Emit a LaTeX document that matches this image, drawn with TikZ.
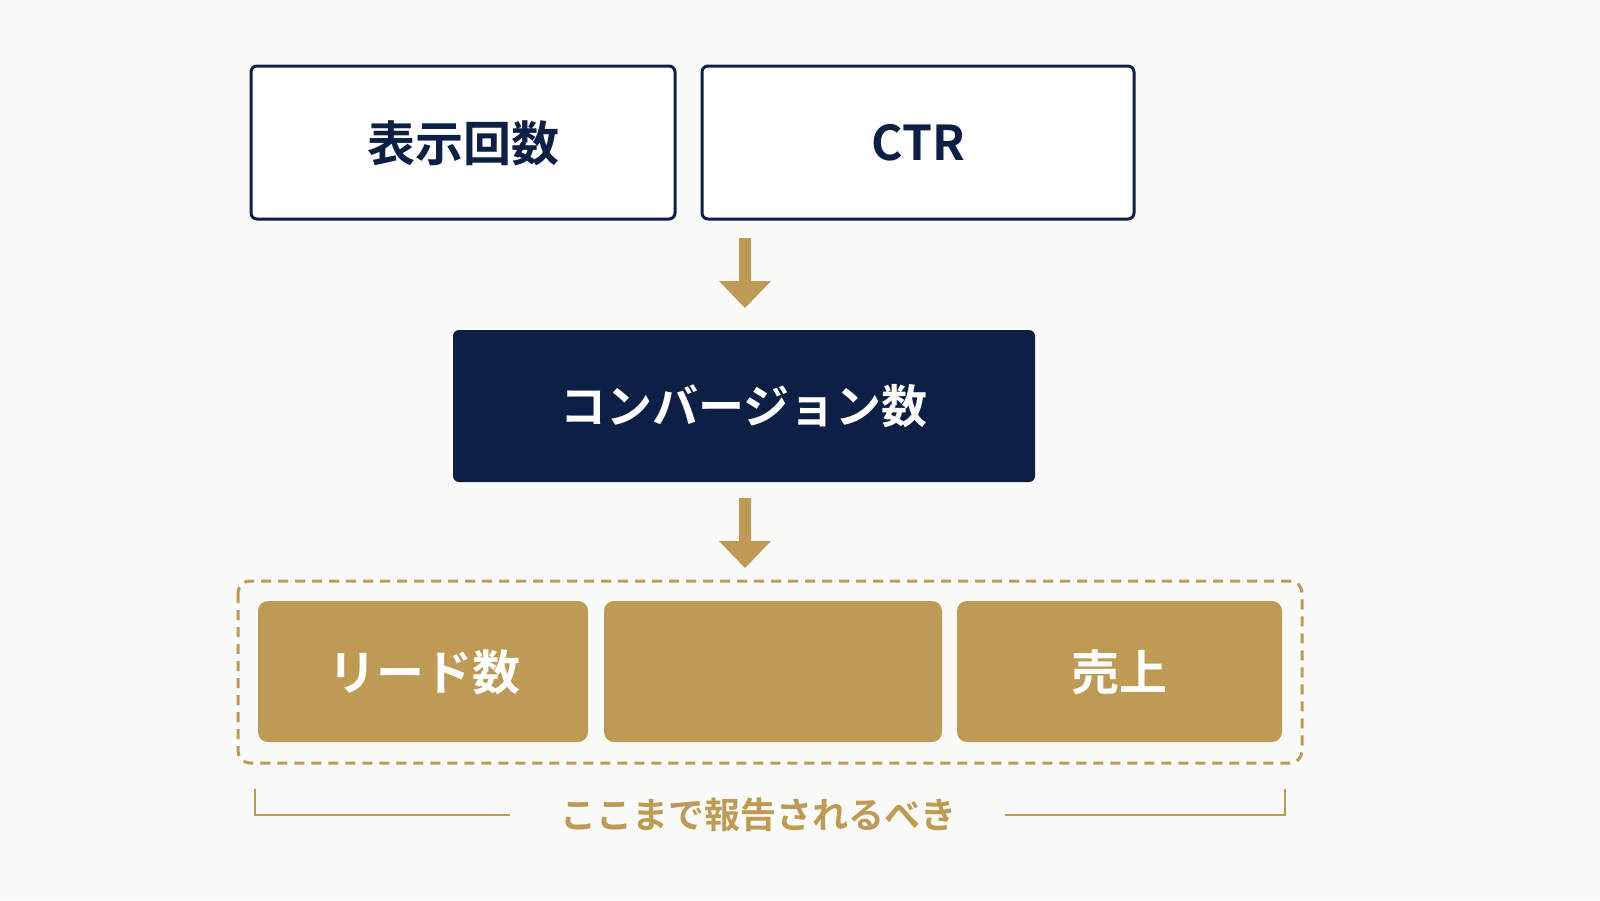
\documentclass[tikz,border=0pt]{standalone}
\usepackage{fontspec}
\newfontfamily\jp{Noto Sans CJK JP}[FakeBold=0]
\newfontfamily\jpb{Noto Sans CJK JP Bold}
\definecolor{navy}{HTML}{0D1F45}
\definecolor{gold}{HTML}{BF9A55}
\definecolor{bg}{HTML}{FAFAF8}
\tikzset{
 wbox/.style={draw=navy,line width=3pt,fill=white,rounded corners=6pt,text=navy,font=\jpb\fontsize{48}{50}\selectfont},
 nbox/.style={fill=navy,rounded corners=6pt,text=white,font=\jpb\fontsize{46}{50}\selectfont},
 gbox/.style={fill=gold,rounded corners=10pt,text=white,font=\jpb\fontsize{48}{50}\selectfont},
 lbl/.style={text=gold,font=\jpb\fontsize{36}{40}\selectfont}
}
\begin{document}
\begin{tikzpicture}[x=1pt,y=-1pt]
\fill[bg] (0,0) rectangle (1600,900);
\useasboundingbox (0,0) rectangle (1600,900);
\draw[wbox] (251,66) rectangle (675,219); \node[text=navy,font=\jpb\fontsize{48}{50}\selectfont] (a) at (463,143) {表示回数};
\draw[wbox] (702,66) rectangle (1134,219); \node[text=navy,font=\jpb\fontsize{48}{50}\selectfont] (b) at (918,143) {CTR};
\fill[gold] (739,238) -- (751,238) -- (751,281) -- (771,281) -- (745,308) -- (719,281) -- (739,281) -- cycle;
\fill[navy,rounded corners=6pt] (453,330) rectangle (1035,482);
\node[text=white,font=\jpb\fontsize{46}{50}\selectfont] (c) at (744,406) {コンバージョン数};
\fill[gold] (739,498) -- (751,498) -- (751,541) -- (771,541) -- (745,568) -- (719,541) -- (739,541) -- cycle;
\draw[gold,line width=3pt,dash pattern=on 10pt off 7pt,rounded corners=12pt] (238,581) rectangle (1302,763);
\fill[gold,rounded corners=10pt] (258,601) rectangle (588,742);
\fill[gold,rounded corners=10pt] (604,601) rectangle (942,742);
\fill[gold,rounded corners=10pt] (957,601) rectangle (1282,742);
\node[text=white,font=\jpb\fontsize{48}{50}\selectfont] (d) at (424,672) {リード数};
\node[text=white,font=\jpb\fontsize{48}{50}\selectfont] (f) at (1119,672) {売上};
\node[lbl] (g) at (758,815) {ここまで報告されるべき};
\draw[gold,line width=2pt] (255,789) -- (255,815) -- (510,815);
\draw[gold,line width=2pt] (1005,815) -- (1285,815) -- (1285,789);
\end{tikzpicture}
\end{document}
